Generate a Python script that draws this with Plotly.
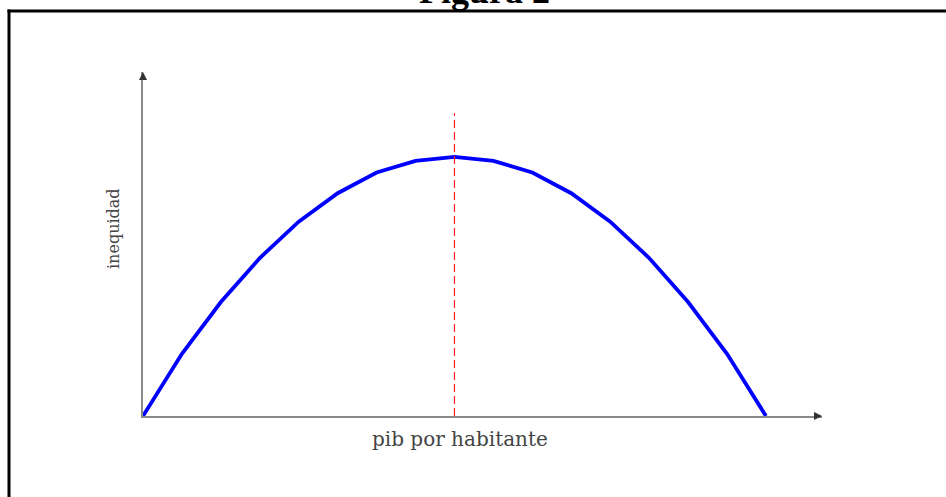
import plotly.graph_objects as go

# ---- data ----
pib = [0, 1, 2, 3, 4, 5, 6, 7, 8, 9, 10, 11, 12, 13, 14, 15, 16]
inequidad = [0.0, 0.24, 0.44, 0.61, 0.75, 0.86, 0.94, 0.985, 1.0,
             0.985, 0.94, 0.86, 0.75, 0.61, 0.44, 0.24, 0.0]
peak_x = 8
peak_line_top = 1.17
x_label = "pib por habitante"
y_label = "inequidad"
title_text = "Figura 2"

W, H = 946, 497
L, R, T, B = 143, 124, 72, 81
XMAX, YMAX = 17.44, 1.328

def px(xp):
    return (xp - L) / (W - L - R)

def py(yp):
    return (H - B - yp) / (H - B - T)

fig = go.Figure()
fig.add_trace(go.Scatter(x=pib, y=inequidad, mode="lines",
                         line=dict(color="#0000ff", width=3.8),
                         cliponaxis=False, hoverinfo="skip"))
fig.add_trace(go.Scatter(x=[peak_x, peak_x], y=[0, peak_line_top], mode="lines",
                         line=dict(color="#ff2020", width=1.2, dash="8px,4px"),
                         hoverinfo="skip"))

axis_common = dict(showgrid=False, zeroline=False, showticklabels=False,
                   ticks="", showline=True, linecolor="#8a8a8a", linewidth=1.6,
                   fixedrange=True)
fig.update_xaxes(range=[0, XMAX], **axis_common)
fig.update_yaxes(range=[0, YMAX], **axis_common)

annotations = [
    # arrow heads
    dict(x=XMAX, y=0, xref="x", yref="y", ax=-9, ay=0, axref="pixel", ayref="pixel",
         showarrow=True, arrowhead=2, arrowsize=1, arrowwidth=1.6,
         arrowcolor="#333333", text="", standoff=0),
    dict(x=0, y=YMAX, xref="x", yref="y", ax=0, ay=9, axref="pixel", ayref="pixel",
         showarrow=True, arrowhead=2, arrowsize=1, arrowwidth=1.6,
         arrowcolor="#333333", text="", standoff=0),
    # axis labels
    dict(x=px(460), y=py(439), xref="paper", yref="paper", text=x_label,
         showarrow=False, xanchor="center", yanchor="middle",
         font=dict(family="DejaVu Serif", size=20, color="#444444")),
    dict(x=px(113), y=py(229), xref="paper", yref="paper", text=y_label,
         showarrow=False, xanchor="center", yanchor="middle", textangle=-90,
         font=dict(family="DejaVu Serif", size=16, color="#444444")),
    # clipped title
    dict(x=px(484), y=py(13), xref="paper", yref="paper", text="<b>" + title_text + "</b>",
         showarrow=False, xanchor="center", yanchor="bottom",
         font=dict(family="Liberation Serif", size=36, color="#000000")),
]

shapes = [
    dict(type="line", xref="paper", yref="paper", x0=px(7.5), x1=px(960),
         y0=py(11), y1=py(11), line=dict(color="#000000", width=3)),
    dict(type="line", xref="paper", yref="paper", x0=px(9), x1=px(9),
         y0=py(9.5), y1=py(510), line=dict(color="#000000", width=3)),
]

fig.update_layout(width=W, height=H, margin=dict(l=L, r=R, t=T, b=B),
                  paper_bgcolor="#ffffff", plot_bgcolor="#ffffff",
                  showlegend=False, annotations=annotations, shapes=shapes)

fig.write_html("out.html", config={"displayModeBar": False},
               post_script="document.body.style.margin='0';document.body.style.overflow='hidden';")
